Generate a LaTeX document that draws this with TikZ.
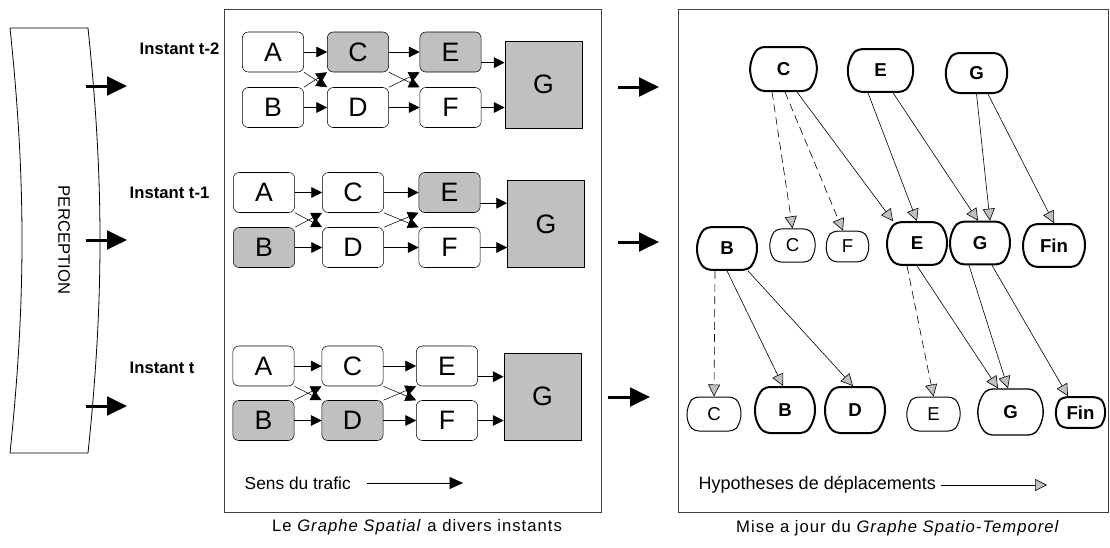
\documentclass[tikz,border=0pt]{standalone}
\usepackage{fontspec}
\setmainfont{Liberation Sans}
\usetikzlibrary{arrows.meta,shapes.misc}
\definecolor{shade}{RGB}{192,192,192}
\begin{document}
\begin{tikzpicture}
[   x=0.75pt, y=-0.75pt,
    box/.style={draw=black,fill=#1,rounded corners=4.5pt,minimum width=46pt,minimum height=30pt,inner sep=0pt,font=\fontsize{20}{20}\selectfont},
    gnode/.style={draw=black,fill=shade,minimum width=58pt,minimum height=65pt,inner sep=0pt,font=\fontsize{20}{20}\selectfont},
    tri/.style={-{Triangle[length=8pt,width=8pt]}},
    big/.style={line width=2.25pt,-{Triangle[length=15pt,width=14pt]}},
    hnode/.style={draw=black,line width=1.5pt,rounded rectangle,rounded rectangle arc length=100,rounded corners=3pt,inner sep=0pt,font=\bfseries\fontsize{14}{14}\selectfont},
    lnode/.style={draw=black,line width=0.75pt,rounded rectangle,rounded rectangle arc length=100,rounded corners=3pt,inner sep=0pt,font=\fontsize{14}{14}\selectfont},
    hyp/.style={-{Triangle[length=9pt,width=9pt,fill=shade]},line width=0.45pt},
    frame/.style={draw=black!75,line width=0.75pt},
    instant/.style={anchor=west,font=\bfseries\fontsize{12.5}{14}\selectfont},
]
    \useasboundingbox (0,0) rectangle (1110,547);
    % perception band
    \draw[line width=0.6pt] (10,28) -- (88,28) .. controls (104,180) and (104,300) .. (88,453)
        -- (10,453) .. controls (26,300) and (26,180) .. (10,28);
    \node[rotate=-90,font=\fontsize{12.5}{14}\selectfont] (perc) at (64,240) {PERCEPTION};
    \node[instant] (inst-1) at (135,49) {Instant t-2};
    \node[instant] (inst-2) at (125,193) {Instant t-1};
    \node[instant] (inst-3) at (125,368) {Instant t};
    \foreach \y [count=\i] in {86,240,406}
    {   \coordinate (pa-\i) at (86,\y);
        \coordinate (pb-\i) at (127,\y);
        \draw[big] (pa-\i) -- (pb-\i);
    }
    % spatial graph at three instants
    \draw[frame] (224,9) rectangle (601,512);
    \foreach \n/\xa/\xc/\xe/\ya/\yb/\gx/\gy/\fa/\fb/\fc/\fd/\fe/\ff in
        {1/273/358/450.5/52/107.5/543.5/84.5/white/white/shade/white/shade/white,
         2/264/353/449.5/192.5/247.5/546/224/white/shade/white/white/shade/white,
         3/263.5/352.5/447/366/420.5/542.5/396.5/white/shade/white/shade/white/white}
    {   \node[box=\fa] (A-\n) at (\xa,\ya) {A};
        \node[box=\fb] (B-\n) at (\xa,\yb) {B};
        \node[box=\fc] (C-\n) at (\xc,\ya) {C};
        \node[box=\fd] (D-\n) at (\xc,\yb) {D};
        \node[box=\fe] (E-\n) at (\xe,\ya) {E};
        \node[box=\ff] (F-\n) at (\xe,\yb) {F};
        \node[gnode] (G-\n) at (\gx,\gy) {G};
        \draw[tri] (A-\n.east) -- (A-\n.east -| C-\n.west);
        \draw[tri] (B-\n.east) -- (B-\n.east -| D-\n.west);
        \draw[tri] (C-\n.east) -- (C-\n.east -| E-\n.west);
        \draw[tri] (D-\n.east) -- (D-\n.east -| F-\n.west);
        \draw[tri] (F-\n.east) -- (F-\n.east -| G-\n.west);
        \coordinate (eg-\n) at ([yshift=-8pt]E-\n.east);
        \draw[tri] (eg-\n) -- (eg-\n -| G-\n.west);
        \draw[tri] (A-\n.south east) -- (D-\n.north west);
        \draw[tri] (B-\n.north east) -- (C-\n.south west);
        \draw[tri] (C-\n.south east) -- (F-\n.north west);
        \draw[tri] (D-\n.north east) -- (E-\n.south west);
    }
    \node[anchor=west,font=\fontsize{13}{15}\selectfont] (sens) at (240,483) {Sens du trafic};
    \coordinate (sens-a) at (367,483);
    \coordinate (sens-b) at (463,483);
    \draw[-{Triangle[length=10pt,width=9pt]}] (sens-a) -- (sens-b);
    \node[font=\fontsize{12.5}{15}\selectfont\addfontfeature{LetterSpace=6}] (cap-1) at (417,527) {Le \textit{Graphe Spatial} a divers instants};
    % update arrows
    \foreach \xa/\xb/\y [count=\i] in {618/659/87,618/659/242,608/650/397}
    {   \coordinate (ua-\i) at (\xa,\y);
        \coordinate (ub-\i) at (\xb,\y);
        \draw[big] (ua-\i) -- (ub-\i);
    }
    % spatio-temporal graph
    \draw[frame] (678,9) rectangle (1108.5,512);
    \node[hnode,minimum width=50pt,minimum height=33pt] (tc) at (783.5,69) {C};
    \node[hnode,minimum width=49pt,minimum height=32pt] (te) at (880.5,70.5) {E};
    \node[hnode,minimum width=46pt,minimum height=30pt] (tg) at (976.5,73) {G};
    \node[hnode,minimum width=45pt,minimum height=32pt] (mb) at (727,248.5) {B};
    \node[lnode,minimum width=34pt,minimum height=25pt] (mc) at (792.5,245.5) {C};
    \node[lnode,minimum width=32pt,minimum height=23pt] (mf) at (847.5,246.5) {F};
    \node[hnode,minimum width=45pt,minimum height=32pt] (me) at (917,243.5) {E};
    \node[hnode,minimum width=45pt,minimum height=32pt] (mg) at (980,243) {G};
    \node[hnode,minimum width=46.5pt,minimum height=32pt] (mfin) at (1054,245.5) {Fin};
    \node[lnode,minimum width=40.5pt,minimum height=25.5pt] (bc) at (714,414) {C};
    \node[hnode,minimum width=43.5pt,minimum height=34.5pt] (bb) at (785,410) {B};
    \node[hnode,minimum width=45pt,minimum height=34.5pt] (bd) at (855,410) {D};
    \node[lnode,minimum width=40pt,minimum height=25.5pt] (be) at (933.5,414) {E};
    \node[hnode,line width=1pt,minimum width=49pt,minimum height=34.5pt] (bg) at (1010.5,412) {G};
    \node[hnode,minimum width=37pt,minimum height=23pt] (bfin) at (1080.5,412.5) {Fin};
    \draw[hyp,dash pattern=on 6pt off 3.5pt] ([xshift=-8.6pt]tc.south) -- (mc.north);
    \draw[hyp,dash pattern=on 6pt off 3.5pt] ([xshift=1.1pt]tc.south) -- ([xshift=-3.4pt]mf.north);
    \draw[hyp] ([xshift=10.1pt]tc.south) -- ([xshift=-18pt]me.north);
    \draw[hyp] ([xshift=-9.4pt]te.south) -- (me.north);
    \draw[hyp] ([xshift=9.4pt]te.south) -- ([xshift=-1.5pt]mg.north);
    \draw[hyp] (tg.south) -- ([xshift=7.5pt]mg.north);
    \draw[hyp] ([xshift=8.6pt]tg.south) -- (mfin.north);
    \draw[hyp,dash pattern=on 6pt off 3.5pt] ([xshift=-9pt]mb.south) -- (bc.north);
    \draw[hyp] (mb.south) -- ([xshift=-1.5pt]bb.north);
    \draw[hyp] ([xshift=15.75pt]mb.south) -- ([xshift=-1.5pt]bd.north);
    \draw[hyp,dash pattern=on 6pt off 3.5pt] ([xshift=-7.5pt]me.south) -- (be.north);
    \draw[hyp] (me.south) -- ([xshift=-9.4pt]bg.north);
    \draw[hyp] ([xshift=-8.25pt]mg.south) -- ([xshift=-1.9pt]bg.north);
    \draw[hyp] ([xshift=9pt]mg.south) -- ([xshift=-9.4pt]bfin.north);
    \node[anchor=west,font=\fontsize{13.5}{15}\selectfont] (hyp-t) at (694,485) {Hypotheses de déplacements};
    \coordinate (hyp-b) at (1047,485);
    \draw[hyp] (hyp-t.east) -- (hyp-b);
    \node[font=\fontsize{12.5}{15}\selectfont\addfontfeature{LetterSpace=6}] (cap-2) at (898,528) {Mise a jour du \textit{Graphe Spatio-Temporel}};
\end{tikzpicture}
\end{document}
